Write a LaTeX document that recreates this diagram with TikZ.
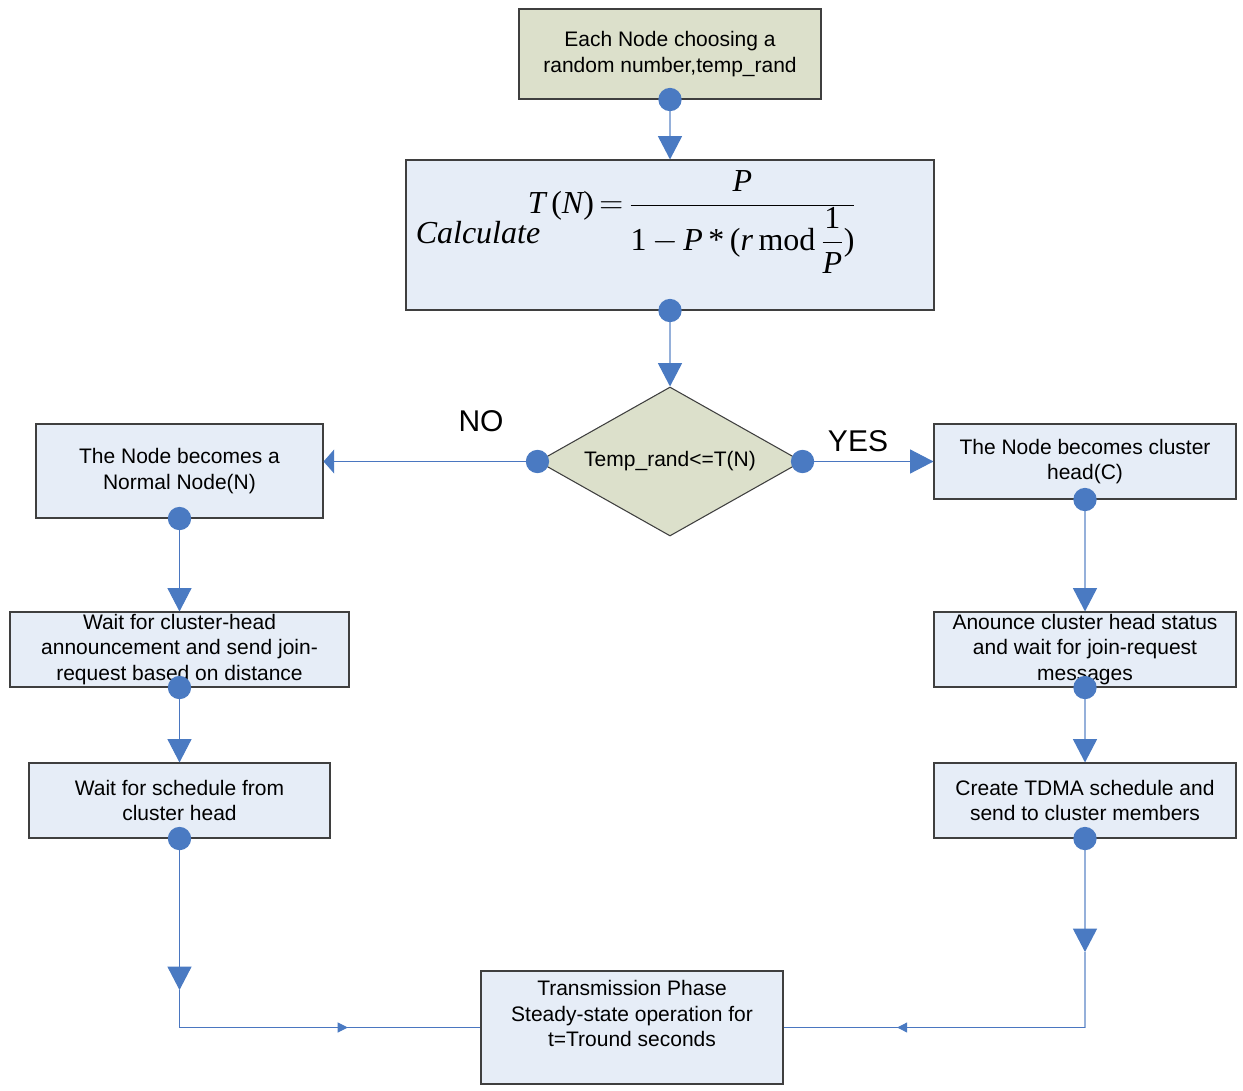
\documentclass[tikz,border=0pt]{standalone}
\usepackage{fontspec}
\usetikzlibrary{arrows.meta,shapes.geometric,decorations.markings}
\newfontfamily\arial{Liberation Sans}
\newfontfamily\tms{Liberation Serif}
\definecolor{boxblue}{HTML}{E6EDF7}
\definecolor{boxgreen}{HTML}{DCE0CB}
\definecolor{dotblue}{HTML}{4A7AC2}
\definecolor{linedark}{HTML}{4A76C0}
\definecolor{linelight}{HTML}{95B0DA}
\definecolor{edge}{HTML}{3F3F3F}
\newcommand\ti[1]{\mbox{\tms\itshape #1}}
\newcommand\tr[1]{\mbox{\tms #1}}
\begin{document}
\begin{tikzpicture}[x=0.75pt,y=-0.75pt,
  box/.style={draw=edge, line width=0.8pt, fill=boxblue, inner sep=0pt, align=center,
              font=\arial\fontsize{15.75}{19}\selectfont},
  gbox/.style={box, fill=boxgreen},
  txt/.style={inner sep=0pt, align=center, font=\arial\fontsize{15.75}{19}\selectfont},
  dot/.style={circle, fill=dotblue, minimum size=17.5pt, inner sep=0pt},
  conn/.style={draw=linedark, line width=0.75pt},
  lconn/.style={draw=linelight, line width=1pt},
  big/.style={-{Triangle[length=17.5pt,width=18pt,color=dotblue]}},
  flat/.style={-{Triangle[length=8pt,width=18pt,color=dotblue]}},
  midarrow/.style={postaction=decorate, decoration={markings,
      mark=at position #1 with {\arrow{Triangle[length=7.5pt,width=7.5pt,color=dotblue]}}}},
  yesno/.style={inner sep=0pt, font=\arial\fontsize{22.5}{27}\selectfont}
]
\useasboundingbox (0,0) rectangle (1243,1091);

% boxes
\node[gbox, minimum width=226.5pt, minimum height=67.5pt] (n1) at (670,54)
  {Each Node choosing a\\random number,temp\_rand};
\node[box, minimum width=396pt, minimum height=112.5pt] (calc) at (670,235) {};
\node[inner sep=0pt, font=\tms\itshape\fontsize{24}{28}\selectfont] (calctxt) at (478,233) {Calculate};
\node[inner sep=0pt, font=\fontsize{24}{28}\selectfont] (formula) at (692,222)
  {$\displaystyle \ti{T}\,\tr{(}\ti{N}\tr{)}\,{=}\,\frac{\ti{P}}{\tr{1}\,{-}\,\ti{P}\,\tr{*}\,\tr{(}\ti{r}\,\tr{mod}\,{\displaystyle\frac{\tr{1}}{\ti{P}}}\tr{)}}$};
\node[diamond, draw=edge, line width=0.8pt, fill=boxgreen, aspect=1.77, inner sep=0pt,
      minimum width=198pt, minimum height=111.75pt,
      font=\arial\fontsize{15.75}{19}\selectfont] (dia) at (670,461.5) {Temp\_rand<=T(N)};
\node[box, minimum width=215.25pt, minimum height=70.5pt] (left1) at (179.5,471)
  {The Node becomes a\\Normal Node(N)};
\node[box, minimum width=226.5pt, minimum height=56.25pt] (right1) at (1085,461.5)
  {The Node becomes cluster\\head(C)};
\node[box, minimum width=254.25pt, minimum height=56.25pt] (left2) at (179.5,649.5)
  {Wait for cluster-head\\announcement and send join-\\request based on distance};
\node[box, minimum width=225.75pt, minimum height=56.25pt] (left3) at (179.5,800.5)
  {Wait for schedule from\\cluster head};
\node[box, minimum width=226.5pt, minimum height=56.25pt] (right2) at (1085,649.5)
  {Anounce cluster head status\\and wait for join-request\\messages};
\node[box, minimum width=226.5pt, minimum height=56.25pt] (right3) at (1085,800.5)
  {Create TDMA schedule and\\send to cluster members};
\node[box, minimum width=226.5pt, minimum height=84.75pt] (bottom) at (632,1027.5) {};
\node[txt] (bottomtxt) at ([yshift=10.5pt]bottom.center)
  {Transmission Phase\\Steady-state operation for\\t=Tround seconds};

% labels
\node[yesno] (no) at (481,421) {NO};
\node[yesno] (yes) at (858,441) {YES};

% coordinates for bends
\coordinate (la) at (179.5,990);
\coordinate (lb) at (179.5,1027.5);
\coordinate (ra) at (1085,952);
\coordinate (rb) at (1085,1027.5);

% connectors
\draw[lconn, big] (n1.south) -- (calc.north);
\draw[lconn, big] (calc.south) -- (dia.north);
\draw[conn, flat] (dia.west) -- (dia.west -| left1.east);
\draw[conn, big] (dia.east) -- (right1.west);
\draw[conn, big] (left1.south) -- (left2.north);
\draw[conn, big] (left2.south) -- (left3.north);
\draw[lconn, big] (right1.south) -- (right2.north);
\draw[lconn, big] (right2.south) -- (right3.north);
\draw[conn, big] (left3.south) -- (la);
\draw[conn] (la) -- (lb);
\draw[conn, midarrow=0.559] (lb) -- (bottom.west);
\draw[lconn, big] (right3.south) -- (ra);
\draw[lconn] (ra) -- (rb);
\draw[conn, midarrow=0.623] (rb) -- (bottom.east);

% dots
\node[dot] (d1) at (n1.south) {};
\node[dot] (d2) at (calc.south) {};
\node[dot] (dw) at (dia.west) {};
\node[dot] (de) at (dia.east) {};
\node[dot] (dl1) at (left1.south) {};
\node[dot] (dl2) at (left2.south) {};
\node[dot] (dl3) at (left3.south) {};
\node[dot] (dr1) at (right1.south) {};
\node[dot] (dr2) at (right2.south) {};
\node[dot] (dr3) at (right3.south) {};
\end{tikzpicture}
\end{document}
